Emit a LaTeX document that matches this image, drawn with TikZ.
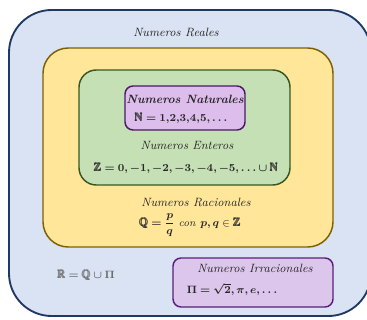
\documentclass[tikz,border=0pt]{standalone}
\usepackage{amsmath,amssymb,bm}
\usetikzlibrary{positioning}
\definecolor{realfill}{HTML}{DAE3F3}
\definecolor{realline}{HTML}{203864}
\definecolor{ratfill}{HTML}{FFE699}
\definecolor{ratline}{HTML}{7F6000}
\definecolor{intfill}{HTML}{C5E0B4}
\definecolor{intline}{HTML}{385723}
\definecolor{natfill}{HTML}{DDBDEB}
\definecolor{natline}{HTML}{4A1A66}
\definecolor{irrfill}{HTML}{DCC6EC}
\definecolor{irrline}{HTML}{5A1F7A}
\definecolor{unionclr}{HTML}{6B6B6B}
\newcommand{\bbb}[1]{\pmb{\mathbb{#1}}}
\begin{document}
\begin{tikzpicture}[x=0.75pt,y=-0.75pt,
  setname/.style={font=\itshape\small, text=black!85, inner sep=1pt},
  setdef/.style={font=\fontsize{8.5}{10}\selectfont, text=black!85, inner sep=1pt},
  setbox/.style={line width=1.1pt}]
\useasboundingbox (0,0) rectangle (367,320);

% conjuntos
\draw[setbox, line width=1.4pt, draw=realline, fill=realfill, rounded corners=32pt] (9,10) rectangle (371,316);
\draw[setbox, draw=ratline, fill=ratfill, rounded corners=19pt] (43,48) rectangle (333,247);
\draw[setbox, draw=intline, fill=intfill, rounded corners=13pt] (79,70) rectangle (290,185);
\draw[setbox, draw=natline, fill=natfill, rounded corners=6pt] (125,86) rectangle (245,130);
\draw[setbox, draw=irrline, fill=irrfill, rounded corners=6pt] (173,258) rectangle (333,307);

% etiquetas
\draw(176,32) node[setname] (reales) {Numeros Reales};
\draw(185,99) node[setname] (naturales) {\bfseries Numeros Naturales};
\draw(181,118) node[setdef] (natdef) {$\bbb{N} \bm{= 1{,}2{,}3{,}4{,}5,\ldots}$};
\draw(187,145) node[setname] (enteros) {Numeros Enteros};
\draw(186,168) node[setdef] (intdef) {$\bbb{Z} \bm{= 0, -1, -2, -3, -4, -5, \ldots \cup} \bbb{N}$};
\draw(196,202) node[setname] (racionales) {Numeros Racionales};
\draw(190,225) node[setdef] (ratdef) {$\bbb{Q} \bm{= \dfrac{p}{q}}$ $\mathit{con}\ \bm{p,q} \in \bbb{Z}$};
\draw(86,275) node[setdef, text=unionclr] (union) {$\bbb{R} \bm{=} \bbb{Q} \bm{\cup \Pi}$};
\draw(255,268) node[setname] (irracionales) {Numeros Irracionales};
\draw(232,289) node[setdef] (irrdef) {$\bm{\Pi = \sqrt{2}, \pi, e, \ldots}$};
\end{tikzpicture}
\end{document}
